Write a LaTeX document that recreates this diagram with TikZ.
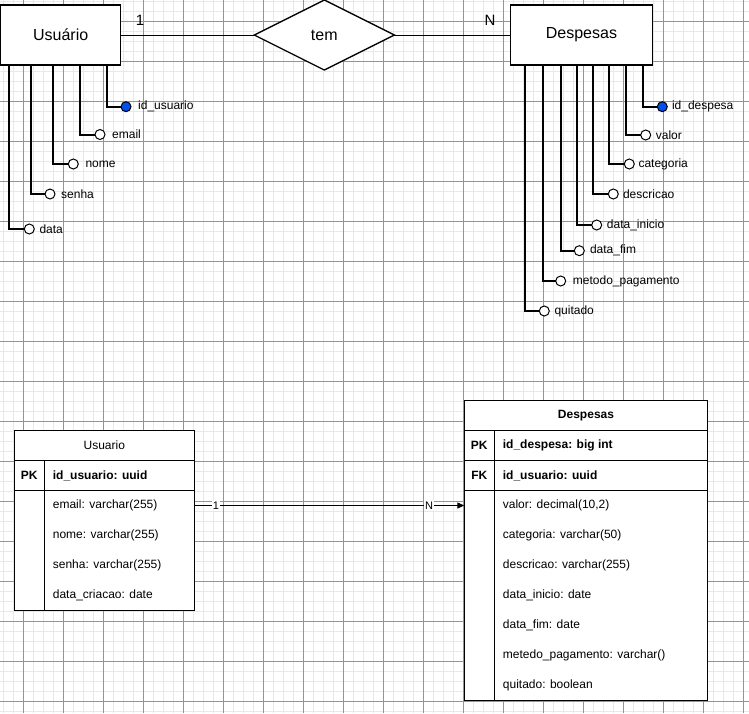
\documentclass[tikz,border=0pt]{standalone}
\usepackage{fontspec}
\setmainfont{Liberation Sans}
\usetikzlibrary{shapes.geometric,arrows.meta}
\definecolor{attrblue}{RGB}{0,80,239}
\begin{document}
\begin{tikzpicture}[x=1pt,y=-1pt,
  minorgrid/.style={draw=black!9,line width=1pt},
  majorgrid/.style={draw=black!42,line width=0.8pt},
  entity/.style={draw,line width=1.2pt,fill=white,outer sep=0pt,anchor=north west,font=\fontsize{16}{19}\selectfont},
  relation/.style={diamond,draw,line width=1.3pt,fill=white,outer sep=0pt,inner sep=0pt,minimum width=140pt,minimum height=70pt,font=\fontsize{16}{19}\selectfont},
  card/.style={font=\fontsize{15}{18}\selectfont,inner sep=0pt},
  attr/.style={circle,draw,line width=1pt,fill=white,minimum size=10pt,inner sep=0pt,outer sep=0pt},
  keyattr/.style={attr,fill=attrblue},
  lbl/.style={anchor=west,inner sep=0pt,font=\fontsize{12}{14}\selectfont},
  link/.style={line width=2pt,line cap=butt},
  tbl/.style={draw,line width=0.9pt,fill=white,outer sep=0pt,inner sep=0pt,anchor=north west},
  rule/.style={line width=0.9pt},
  head/.style={font=\fontsize{12}{14}\selectfont,inner sep=0pt},
  keycol/.style={font=\fontsize{12}{14}\selectfont\bfseries,inner sep=0pt},
  field/.style={anchor=west,font=\fontsize{12}{14}\selectfont,inner sep=0pt},
  bfield/.style={field,font=\fontsize{12}{14}\selectfont\bfseries},
  cardlbl/.style={fill=white,inner sep=1pt,font=\fontsize{11}{13}\selectfont}
]
\useasboundingbox (0,0) rectangle (749,713);
\fill[white] (0,0) rectangle (749,713);
% grid
\foreach \i in {0,...,74} \draw[minorgrid] (3.3+10*\i,0) -- (3.3+10*\i,713);
\foreach \j in {0,...,71} \draw[minorgrid] (0,1.7+10*\j) -- (749,1.7+10*\j);
\foreach \i in {0,...,18} \draw[majorgrid] (23.3+40*\i,0) -- (23.3+40*\i,713);
\foreach \j in {0,...,17} \draw[majorgrid] (0,21.7+40*\j) -- (749,21.7+40*\j);

% ER diagram
\node[entity,minimum width=120pt,minimum height=60pt] (U) at (0.7,5) {Usuário};
\node[entity,minimum width=141.5pt,minimum height=60pt] (D) at (510.7,5) {Despesas};
\node[relation] (R) at (324.3,35) {tem};
\draw[line width=1pt] (U.east) -- (R.west);
\draw[line width=1pt] (R.east) -- (D.west);
\node[card] (c1) at (140,20) {1};
\node[card] (cN) at (490,20) {N};

% Usuario attributes
\node[keyattr] (ua1) at (126,106.7) {};
\node[attr] (ua2) at (100,134.5) {};
\node[attr] (ua3) at (73.3,164) {};
\node[attr] (ua4) at (50,194) {};
\node[attr] (ua5) at (29.3,229) {};
\draw[link] ([xshift=106pt]U.south west) |- (ua1.west);
\draw[link] ([xshift=79.3pt]U.south west) |- (ua2.west);
\draw[link] ([xshift=52.6pt]U.south west) |- (ua3.west);
\draw[link] ([xshift=30.3pt]U.south west) |- (ua4.west);
\draw[link] ([xshift=8.6pt]U.south west) |- (ua5.west);
\node[lbl] (ul1) at ([xshift=7pt]ua1.east) {id\_usuario};
\node[lbl] (ul2) at ([xshift=7pt]ua2.east) {email};
\node[lbl] (ul3) at ([xshift=7pt]ua3.east) {nome};
\node[lbl] (ul4) at ([xshift=6pt]ua4.east) {senha};
\node[lbl] (ul5) at ([xshift=5pt]ua5.east) {data};

% Despesas attributes
\node[keyattr] (da1) at (662.3,106.7) {};
\node[attr] (da2) at (645.7,135) {};
\node[attr] (da3) at (629.3,164) {};
\node[attr] (da4) at (613.3,194) {};
\node[attr] (da5) at (596.7,225) {};
\node[attr] (da6) at (579.3,250.7) {};
\node[attr] (da7) at (560.7,281) {};
\node[attr] (da8) at (544.3,311) {};
\draw[link] ([xshift=132pt]D.south west) |- (da1.west);
\draw[link] ([xshift=115pt]D.south west) |- (da2.west);
\draw[link] ([xshift=98.6pt]D.south west) |- (da3.west);
\draw[link] ([xshift=82.6pt]D.south west) |- (da4.west);
\draw[link] ([xshift=66.6pt]D.south west) |- (da5.west);
\draw[link] ([xshift=50pt]D.south west) |- (da6.west);
\draw[link] ([xshift=32pt]D.south west) |- (da7.west);
\draw[link] ([xshift=14.3pt]D.south west) |- (da8.west);
\node[lbl] (dl1) at ([xshift=4.5pt]da1.east) {id\_despesa};
\node[lbl] (dl2) at ([xshift=5pt]da2.east) {valor};
\node[lbl] (dl3) at ([xshift=4pt]da3.east) {categoria};
\node[lbl] (dl4) at ([xshift=4.5pt]da4.east) {descricao};
\node[lbl] (dl5) at ([xshift=5pt]da5.east) {data\_inicio};
\node[lbl] (dl6) at ([xshift=5.5pt]da6.east) {data\_fim};
\node[lbl] (dl7) at ([xshift=7pt]da7.east) {metodo\_pagamento};
\node[lbl] (dl8) at ([xshift=5pt]da8.east) {quitado};

% Table Usuario
\node[tbl,minimum width=180pt,minimum height=180pt] (T1) at (14.3,430) {};
\draw[rule] ([yshift=-30.7pt]T1.north west) -- ([yshift=-30.7pt]T1.north east);
\draw[rule] ([yshift=-60.7pt]T1.north west) -- ([yshift=-60.7pt]T1.north east);
\draw[rule] ([xshift=30pt,yshift=-30.7pt]T1.north west) -- ([xshift=30pt]T1.south west);
\node[head] (T1h) at (104.3,445.3) {Usuario};
\node[keycol] (T1pk) at (29.3,475.5) {PK};
\node[bfield] (T1f0) at (52.7,475.5) {id\_usuario: uuid};
\node[field] (T1f1) at (52.7,505.5) {email: varchar(255)};
\node[field] (T1f2) at (52.7,535.5) {nome: varchar(255)};
\node[field] (T1f3) at (52.7,565.5) {senha: varchar(255)};
\node[field] (T1f4) at (52.7,595.5) {data\_criacao: date};

% Table Despesas
\node[tbl,minimum width=243.4pt,minimum height=300pt] (T2) at (464.3,400) {};
\draw[rule] ([yshift=-30.7pt]T2.north west) -- ([yshift=-30.7pt]T2.north east);
\draw[rule] ([yshift=-60.7pt]T2.north west) -- ([yshift=-60.7pt]T2.north east);
\draw[rule] ([yshift=-90pt]T2.north west) -- ([yshift=-90pt]T2.north east);
\draw[rule] ([xshift=30pt,yshift=-30.7pt]T2.north west) -- ([xshift=30pt]T2.south west);
\node[head,font=\fontsize{12}{14}\selectfont\bfseries] (T2h) at (586,415.3) {Despesas};
\node[keycol] (T2pk) at (479.3,445.5) {PK};
\node[keycol] (T2fk) at (479.3,475.5) {FK};
\node[bfield] (T2f0) at (502.7,445.5) {id\_despesa: big int};
\node[bfield] (T2f1) at (502.7,475.5) {id\_usuario: uuid};
\node[field] (T2f2) at (502.7,505.5) {valor: decimal(10,2)};
\node[field] (T2f3) at (502.7,535.5) {categoria: varchar(50)};
\node[field] (T2f4) at (502.7,565.5) {descricao: varchar(255)};
\node[field] (T2f5) at (502.7,595.5) {data\_inicio: date};
\node[field] (T2f6) at (502.7,625.5) {data\_fim: date};
\node[field] (T2f7) at (502.7,655.5) {metedo\_pagamento: varchar()};
\node[field] (T2f8) at (502.7,685.5) {quitado: boolean};

% relationship between tables
\draw[line width=1pt,-{Triangle[length=7pt,width=6pt]}] (T1.east |- T1f1) -- (T2.west |- T1f1)
  node[cardlbl,pos=0.08] (r1) {1}
  node[cardlbl,pos=0.87] (rN) {N};
\end{tikzpicture}
\end{document}
